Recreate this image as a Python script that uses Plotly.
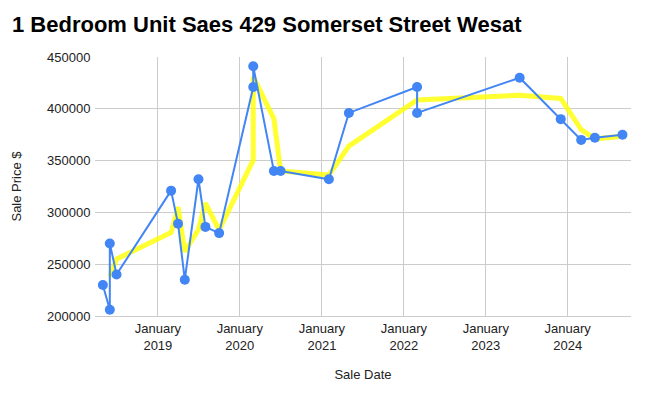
import plotly.graph_objects as go

# Blue series: individual sales (in drawing order)
sale_dates = [
    "2018-05-01", "2018-06-01", "2018-06-01", "2018-07-01",
    "2019-03-01", "2019-04-01", "2019-05-01", "2019-07-01", "2019-08-01", "2019-10-01",
    "2020-03-01", "2020-03-01", "2020-06-01", "2020-07-01",
    "2021-02-01", "2021-05-01",
    "2022-03-01", "2022-03-01",
    "2023-06-01", "2023-12-01",
    "2024-03-01", "2024-05-01", "2024-09-01",
]
sale_prices = [
    230000, 206000, 270000, 240000,
    321000, 289000, 235000, 332000, 286000, 280000,
    421000, 441000, 340000, 340000,
    332000, 396000,
    421000, 396000,
    430000, 390000,
    370000, 372000, 375000,
]

# Yellow series: trend line
trend_dates = [
    "2018-06-01", "2018-07-01",
    "2019-03-01", "2019-04-01", "2019-05-01", "2019-07-01", "2019-08-01", "2019-10-01",
    "2020-03-01", "2020-03-01", "2020-06-01", "2020-07-01",
    "2021-02-01", "2021-05-01",
    "2022-03-01", "2022-03-01",
    "2023-06-01", "2023-12-01",
    "2024-03-01", "2024-05-01", "2024-09-01",
]
trend_prices = [
    238000, 255000,
    280500, 305000, 262000, 283500, 309000, 283000,
    350500, 431000, 390500, 340000,
    336000, 364000,
    408500, 408500,
    413000, 410000,
    380000, 371000, 373500,
]

x_tick_dates = ["2019-01-01", "2020-01-01", "2021-01-01", "2022-01-01", "2023-01-01", "2024-01-01"]
x_tick_labels = ["January<br>2019", "January<br>2020", "January<br>2021",
                 "January<br>2022", "January<br>2023", "January<br>2024"]
y_tick_values = [200000, 250000, 300000, 350000, 400000, 450000]

FONT = "Liberation Sans, Arial, sans-serif"

fig = go.Figure()
fig.add_trace(go.Scatter(
    x=trend_dates, y=trend_prices, mode="lines",
    line=dict(color="#ffff00", width=5), opacity=0.8,
    hoverinfo="skip", cliponaxis=False,
))
fig.add_trace(go.Scatter(
    x=sale_dates, y=sale_prices, mode="lines+markers",
    line=dict(color="#4285f4", width=2),
    marker=dict(size=10, color="#4285f4"),
    cliponaxis=False,
))

fig.update_layout(
    width=648, height=399,
    margin=dict(l=95, r=17, t=57, b=83),
    paper_bgcolor="white", plot_bgcolor="white",
    showlegend=False,
    font=dict(family=FONT, size=13, color="#222222"),
    title=dict(
        text="<b>1 Bedroom Unit Saes 429 Somerset Street Wesat</b>",
        x=12 / 648, xanchor="left", xref="container",
        y=1 - 24 / 399, yanchor="middle",
        font=dict(family=FONT, size=22, color="#000000"),
    ),
    xaxis=dict(
        type="date",
        range=["2018-03-27", "2024-10-09"],
        tickvals=x_tick_dates, ticktext=x_tick_labels,
        showgrid=True, gridcolor="#cccccc", gridwidth=1,
        zeroline=False, showline=True, linecolor="#cccccc",
        ticks="", tickfont=dict(size=13, color="#222222"),
        title=dict(text="Sale Date", font=dict(size=13, color="#222222"), standoff=18),
    ),
    yaxis=dict(
        range=[200000, 450000],
        tickvals=y_tick_values, tickformat="d",
        showgrid=True, gridcolor="#cccccc", gridwidth=1,
        zeroline=False, showline=False,
        ticks="outside", ticklen=1, tickcolor="rgba(0,0,0,0)",
        tickfont=dict(size=13, color="#222222"),
        title=dict(text="Sale Price $", font=dict(size=13, color="#222222"), standoff=22),
    ),
)

fig.write_html("out.html")
